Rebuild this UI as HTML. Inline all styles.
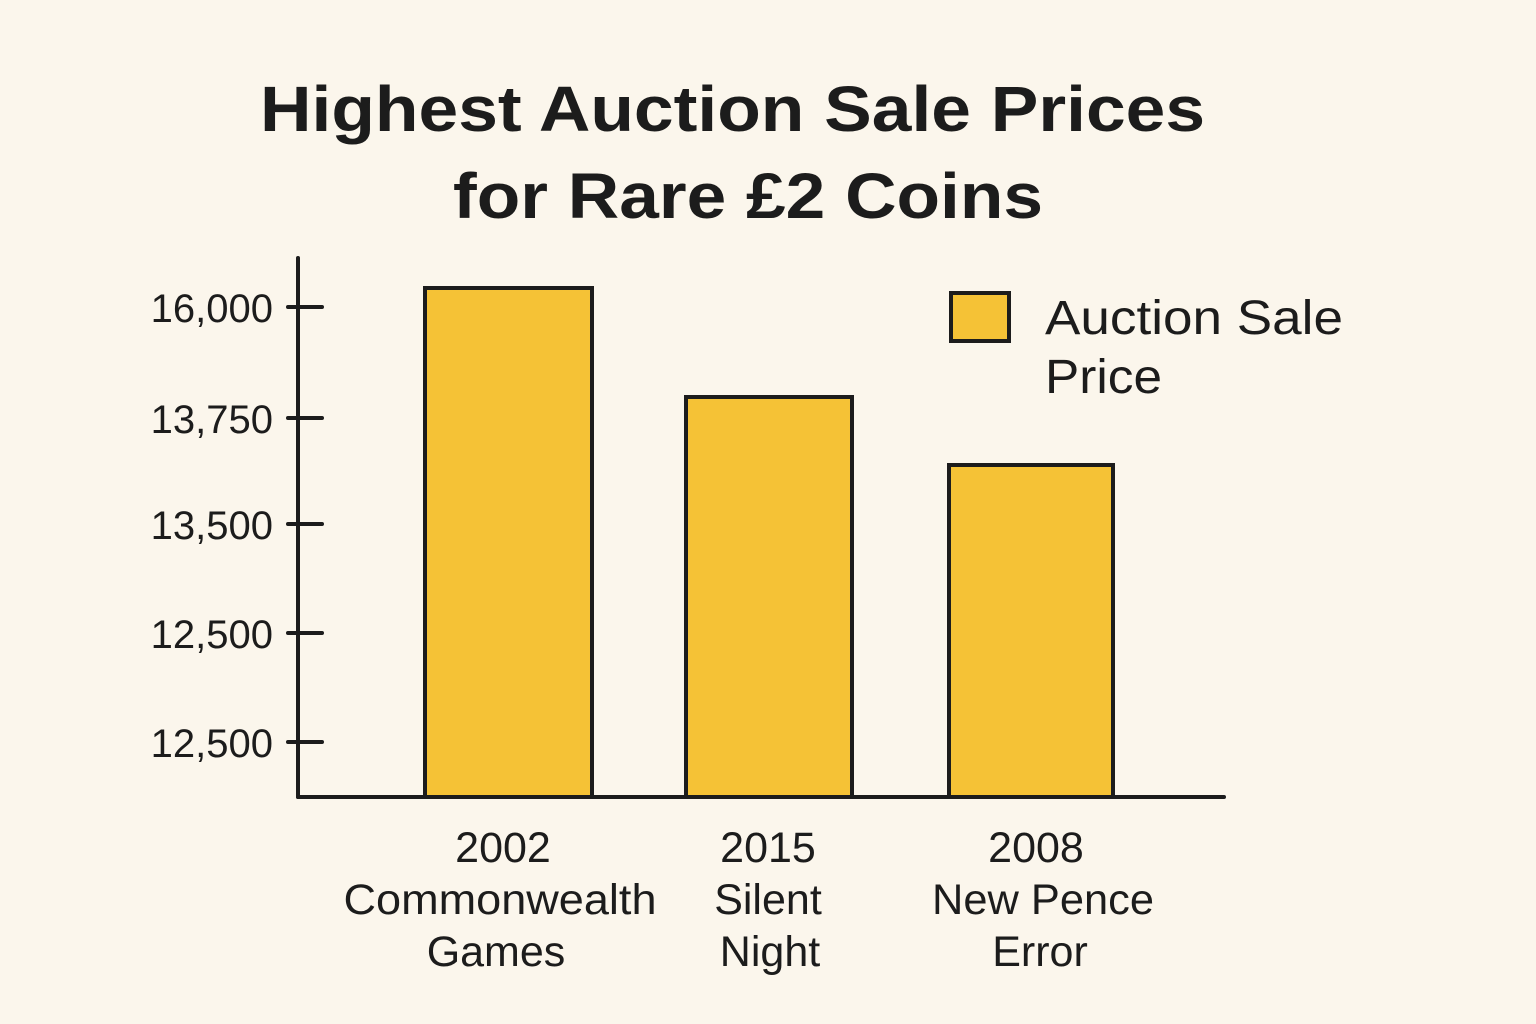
<!DOCTYPE html>
<html><head><meta charset="utf-8"><style>
html,body{margin:0;padding:0;background:#fbf6ec;}
svg{display:block;}
text{font-family:"Liberation Sans","DejaVu Sans",sans-serif;fill:#1c1c1c;}
</style></head><body>
<svg width="1536" height="1024" viewBox="0 0 1536 1024">
<rect width="1536" height="1024" fill="#fbf6ec"/>
<text x="260" y="131" font-size="64" font-weight="bold" textLength="945" lengthAdjust="spacingAndGlyphs">Highest Auction Sale Prices</text>
<text x="453" y="218" font-size="64" font-weight="bold" textLength="590" lengthAdjust="spacingAndGlyphs">for Rare £2 Coins</text>
<g stroke="#1c1c1c" stroke-width="4" stroke-linecap="round">
<line x1="298" y1="258" x2="298" y2="797"/>
<line x1="298" y1="797" x2="1224" y2="797"/>
<line x1="288" y1="307" x2="322" y2="307"/>
<line x1="288" y1="418" x2="322" y2="418"/>
<line x1="288" y1="524" x2="322" y2="524"/>
<line x1="288" y1="633" x2="322" y2="633"/>
<line x1="288" y1="742" x2="322" y2="742"/>
</g>
<g font-size="40" text-anchor="end">
<text x="273" y="322">16,000</text>
<text x="273" y="433">13,750</text>
<text x="273" y="539">13,500</text>
<text x="273" y="648">12,500</text>
<text x="273" y="757">12,500</text>
</g>
<g fill="#f5c236" stroke="#1c1c1c" stroke-width="4">
<rect x="425" y="288" width="167" height="509"/>
<rect x="686" y="397" width="166" height="400"/>
<rect x="949" y="465" width="164" height="332"/>
<rect x="951" y="293" width="58" height="48"/>
</g>
<g font-size="48">
<text x="1045" y="334" textLength="298" lengthAdjust="spacingAndGlyphs">Auction Sale</text>
<text x="1045" y="393" textLength="117" lengthAdjust="spacingAndGlyphs">Price</text>
</g>
<g font-size="43" text-anchor="middle">
<text x="503" y="862">2002</text>
<text x="500" y="914" textLength="313" lengthAdjust="spacingAndGlyphs">Commonwealth</text>
<text x="496" y="966">Games</text>
<text x="768" y="862">2015</text>
<text x="768" y="914">Silent</text>
<text x="770" y="966">Night</text>
<text x="1036" y="862">2008</text>
<text x="1043" y="914" textLength="222" lengthAdjust="spacingAndGlyphs">New Pence</text>
<text x="1040" y="966">Error</text>
</g>
</svg>
</body></html>
